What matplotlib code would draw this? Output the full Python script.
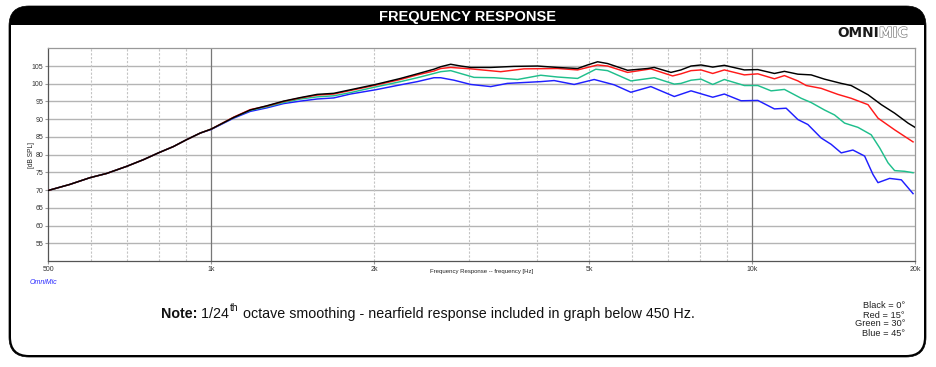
import numpy as np
import matplotlib.pyplot as plt
from matplotlib.patches import FancyBboxPatch, Rectangle
import matplotlib.patheffects as pe

plt.rcParams['font.family'] = ['Liberation Sans', 'DejaVu Sans']

# shared part (nearfield, all angles equal)
low_f = [500, 548, 597, 641, 698, 750, 799, 852, 900, 955]
low_db = [69.9, 71.6, 73.5, 74.7, 76.7, 78.6, 80.5, 82.3, 84.2, 86.1]

black_f = [1000, 1101, 1181, 1268, 1361, 1462, 1570, 1685, 1809, 2013, 2239, 2405,
           2581, 2656, 2772, 2892, 3019, 3287, 3630, 4011, 4368, 4757, 4963, 5180,
           5404, 5885, 6408, 6592, 7078, 7387, 7710, 8045, 8456, 8884, 9675, 10245,
           10995, 11473, 12150, 12855, 13605, 14610, 15240, 16375, 17330, 18340,
           19415, 20000]
black_db = [87.2, 90.5, 92.6, 93.8, 95.1, 96.1, 97.0, 97.3, 98.3, 99.8, 101.5, 102.8,
            104.1, 104.8, 105.5, 105.0, 104.6, 104.6, 104.9, 105.0, 104.6, 104.3, 105.3, 106.2,
            105.7, 103.8, 104.3, 104.6, 103.2, 103.9, 105.0, 105.3, 104.7, 105.2, 103.9, 104.0,
            102.9, 103.5, 102.7, 102.5, 101.3, 100.1, 99.5, 96.9, 94.1, 91.7,
            88.9, 87.7]

red_f = [1000, 1101, 1181, 1268, 1361, 1462, 1570, 1685, 1809, 2013, 2239, 2405,
         2581, 2656, 2772, 3019, 3429, 3787, 4368, 4757, 5180, 5404, 5885, 6498,
         7129, 7387, 7710, 8045, 8456, 8884, 9675, 10245, 10995, 11473, 12150, 12588,
         13415, 14405, 15240, 16375, 17085, 18340, 19835]
red_db = [87.2, 90.6, 92.7, 93.7, 95.0, 96.0, 96.8, 97.1, 98.1, 99.6, 101.2, 102.5,
          103.6, 104.3, 104.6, 104.2, 103.4, 104.2, 104.3, 103.9, 105.3, 105.0, 103.2, 104.2,
          102.2, 102.8, 103.7, 103.9, 102.9, 103.9, 102.5, 102.8, 101.4, 102.3, 100.8, 99.5,
          98.7, 97.0, 95.9, 94.1, 90.3, 87.0, 83.6]

green_f = [1000, 1101, 1181, 1268, 1361, 1462, 1570, 1685, 1809, 2013, 2239, 2405,
           2581, 2656, 2772, 3061, 3334, 3684, 4067, 4368, 4757, 5141, 5404, 5968,
           6592, 7180, 7387, 7710, 8045, 8456, 8884, 9675, 10245, 10840, 11473, 12320,
           12855, 13605, 14200, 14820, 15690, 16600, 17210, 17830, 18340, 19135, 19835]
green_db = [87.2, 90.5, 92.5, 93.5, 94.7, 95.7, 96.3, 96.6, 97.5, 99.1, 100.6, 101.7,
            102.9, 103.4, 103.7, 101.8, 101.7, 101.2, 102.4, 101.9, 101.5, 104.1, 103.7, 100.8,
            101.7, 99.9, 100.1, 101.0, 101.3, 99.8, 101.2, 99.5, 99.5, 98.0, 98.4, 95.9,
            94.7, 92.6, 91.2, 88.9, 87.7, 85.6, 81.9, 77.7, 75.5, 75.3, 74.9]

blue_f = [1000, 1101, 1181, 1268, 1361, 1462, 1570, 1685, 1809, 2013, 2239, 2405,
          2581, 2656, 2811, 3019, 3287, 3528, 4067, 4305, 4688, 5105, 5559, 5968,
          6498, 7180, 7710, 8456, 8884, 9540, 10245, 10995, 11558, 12150, 12677, 13415,
          14000, 14610, 15355, 16140, 16725, 17085, 17950, 18870, 19835]
blue_db = [87.1, 90.3, 92.2, 93.2, 94.4, 95.1, 95.7, 96.0, 97.1, 98.3, 99.7, 100.6,
           101.7, 101.7, 101.0, 99.8, 99.2, 100.1, 100.6, 100.9, 99.8, 101.2, 99.7, 97.6,
           99.2, 96.4, 98.0, 96.2, 97.1, 95.2, 95.3, 92.9, 93.1, 89.9, 88.5, 84.7,
           82.9, 80.5, 81.3, 79.6, 74.4, 72.1, 73.3, 72.9, 69.0]

xticks = [500, 1000, 2000, 5000, 10000, 20000]
xticklabels = ['500', '1k', '2k', '5k', '10k', '20k']
yticks = [55, 60, 65, 70, 75, 80, 85, 90, 95, 100, 105]
legend_lines = ['Black = 0°', 'Red = 15°', 'Green = 30°', 'Blue = 45°']

W, H = 937, 367
fig = plt.figure(figsize=(W / 100, H / 100), dpi=100)

# background layer in pixel coordinates
bg = fig.add_axes([0, 0, 1, 1])
bg.set_xlim(0, W)
bg.set_ylim(H, 0)
bg.axis('off')

bg.add_patch(FancyBboxPatch((9, 6), 917, 351, boxstyle='round,pad=0,rounding_size=20',
                            fc='black', ec='black', lw=0.5))
bg.add_patch(FancyBboxPatch((11, 25), 913, 330, boxstyle='round,pad=0,rounding_size=18',
                            fc='white', ec='none'))
bg.add_patch(Rectangle((11, 25), 913, 40, fc='white', ec='none'))

bg.text(468, 16.5, 'FREQUENCY RESPONSE', color='white', fontsize=10.5, fontweight='bold',
        ha='center', va='center')
bg.text(879, 33, 'OMNI', color='#1a1a1a', fontsize=9.8, fontweight='heavy',
        ha='right', va='center', family='DejaVu Sans')
bg.text(879, 33, 'MIC', color='white', fontsize=9.8, fontweight='heavy',
        ha='left', va='center', family='DejaVu Sans',
        path_effects=[pe.withStroke(linewidth=0.9, foreground='#777777')])

bg.text(482, 272, 'Frequency Response -- frequency [Hz]', fontsize=4.3, color='#222222',
        ha='center', va='center')
bg.text(32, 155, '[dB SPL]', fontsize=4.8, color='#222222', rotation=90,
        ha='center', va='center')
bg.text(30, 283, 'OmniMic', fontsize=5, color='#2a2aff', style='italic',
        ha='left', va='center')

# note line, built from pieces
renderer = fig.canvas.get_renderer()
inv = bg.transData.inverted()
note_y = 318
t = bg.text(161, note_y, 'Note:', fontsize=10.3, fontweight='bold', color='#111111',
            ha='left', va='baseline')
xe = inv.transform(t.get_window_extent(renderer).get_points())[1, 0]
t = bg.text(xe, note_y, ' 1/24', fontsize=10.3, color='#111111', ha='left', va='baseline')
xe = inv.transform(t.get_window_extent(renderer).get_points())[1, 0]
t = bg.text(xe + 1, note_y - 7, 'th', fontsize=7.3, color='#111111', ha='left', va='baseline')
xe = inv.transform(t.get_window_extent(renderer).get_points())[1, 0]
bg.text(xe, note_y, ' octave smoothing - nearfield response included in graph below 450 Hz.',
        fontsize=10.3, color='#111111', ha='left', va='baseline')

for i, s in enumerate(legend_lines):
    bg.text(905, 306 + i * 9, s, fontsize=6.7, color='#222222', ha='right', va='center')

# plot area
x0, x1, y0, y1 = 48.3, 915, 48.3, 261
ax = fig.add_axes([x0 / W, 1 - y1 / H, (x1 - x0) / W, (y1 - y0) / H])
ax.set_xscale('log')
ax.set_xlim(500, 20000)
ax.set_ylim(50, 110)

for y in yticks:
    ax.axhline(y, color='#b4b4b4', lw=1.0, zorder=1)
for f in [600, 700, 800, 900, 2000, 3000, 4000, 5000, 6000, 7000, 8000, 9000]:
    ax.axvline(f, color='#c4c4c4', lw=0.8, ls=(0, (2, 1.5)), zorder=1)
for f in [1000, 10000]:
    ax.axvline(f, color='#777777', lw=0.9, zorder=1)

ax.plot(low_f + blue_f, low_db + blue_db, color='#1f1fff', lw=1.05, zorder=3)
ax.plot(low_f + green_f, low_db + green_db, color='#1fbf8c', lw=1.05, zorder=4)
ax.plot(low_f + red_f, low_db + red_db, color='#ff1a1a', lw=1.05, zorder=5)
ax.plot(low_f + black_f, low_db + black_db, color='black', lw=1.05, zorder=6)

ax.set_xticks(xticks)
ax.set_xticklabels(xticklabels)
ax.minorticks_off()
ax.set_yticks(yticks)
ax.tick_params(labelsize=5, length=2, color='#999999', pad=1.5, labelcolor='#333333')
for side in ['top', 'right']:
    ax.spines[side].set_color('#999999')
for side in ['left', 'bottom']:
    ax.spines[side].set_color('#555555')
for s in ax.spines.values():
    s.set_linewidth(0.9)

fig.savefig('out.png', dpi=100)
